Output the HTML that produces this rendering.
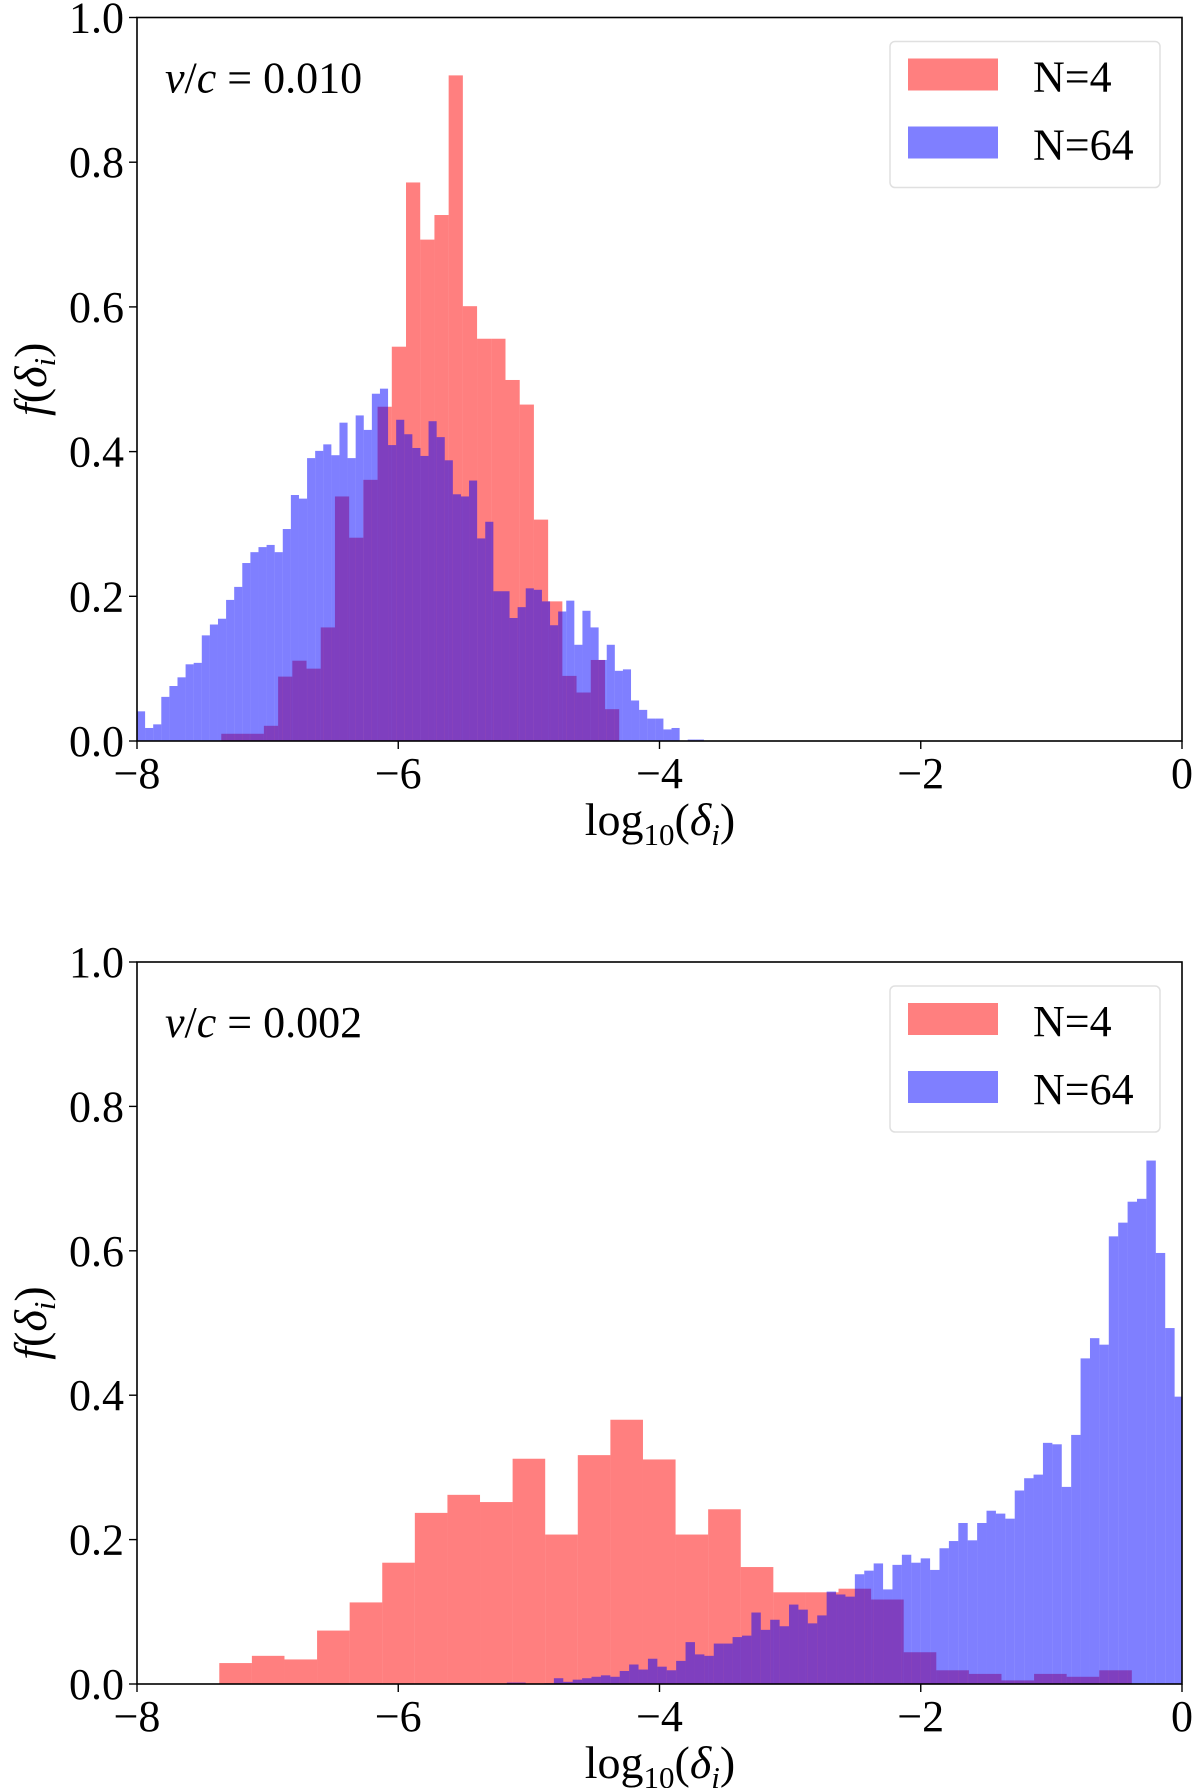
<!DOCTYPE html>
<html><head><meta charset="utf-8"><style>
html,body{margin:0;padding:0;background:#fff;}
svg{display:block;font-family:"Liberation Serif",serif;}
</style></head><body>
<svg id="fig" width="1200" height="1788" viewBox="0 0 1200 1788" xmlns="http://www.w3.org/2000/svg"></svg>
<script>
// ---- Panel 1 (v/c = 0.010) data ----
const top_redStart = -7.355;
const top_redWidth = 0.1088;
const top_red = [0.01,0.01,0.01,0.021,0.089,0.111,0.10,0.157,0.338,0.281,0.361,0.462,0.545,0.772,0.693,0.727,0.92,0.601,0.556,0.556,0.499,0.465,0.306,0.193,0.09,0.067,0.112,0.044];
const top_blueStart = -8.0;
const top_blueWidth = 0.062;
const top_blue = [0.041,0.018,0.023,0.061,0.076,0.088,0.106,0.108,0.146,0.161,0.169,0.195,0.213,0.246,0.261,0.268,0.271,0.261,0.293,0.340,0.335,0.391,0.401,0.410,0.395,0.440,0.391,0.450,0.430,0.480,0.487,0.409,0.444,0.424,0.405,0.394,0.442,0.42,0.388,0.341,0.338,0.36,0.28,0.303,0.207,0.207,0.17,0.185,0.211,0.209,0.193,0.16,0.179,0.194,0.133,0.18,0.157,0.112,0.133,0.097,0.099,0.056,0.043,0.031,0.031,0.016,0.018,0,0.002,0.002];
// ---- Panel 2 (v/c = 0.002) data ----
const bot_redStart = -7.37;
const bot_redWidth = 0.2495;
const bot_red = [0.029,0.039,0.034,0.074,0.113,0.168,0.237,0.262,0.252,0.312,0.207,0.317,0.366,0.311,0.207,0.242,0.162,0.127,0.127,0.132,0.117,0.044,0.019,0.014,0.005,0.014,0.01,0.019];
const bot_blueStart = -5.1685;
const bot_blueWidth = 0.072;
const bot_blue = [0.002,0.002,0,0,0.001,0.008,0.003,0.006,0.008,0.01,0.012,0.01,0.018,0.027,0.02,0.035,0.024,0.019,0.032,0.058,0.041,0.039,0.056,0.056,0.065,0.067,0.099,0.075,0.089,0.08,0.11,0.103,0.084,0.095,0.128,0.124,0.121,0.152,0.157,0.167,0.131,0.165,0.179,0.168,0.174,0.158,0.188,0.198,0.223,0.199,0.223,0.24,0.236,0.229,0.268,0.285,0.29,0.334,0.332,0.273,0.345,0.451,0.479,0.47,0.62,0.639,0.668,0.672,0.725,0.597,0.493,0.398];
const xTicks = [-8,-6,-4,-2,0];
const xTickLabels = ["\u22128","\u22126","\u22124","\u22122","0"];
const yTicks = [0,0.2,0.4,0.6,0.8,1.0];
const yTickLabels = ["0.0","0.2","0.4","0.6","0.8","1.0"];
const legendLabels = ["N=4","N=64"];

const NS = "http://www.w3.org/2000/svg";
const fig = document.getElementById('fig');
function mk(tag, attrs, parent, text){
  const e = document.createElementNS(NS, tag);
  for (const k in attrs) e.setAttribute(k, attrs[k]);
  if (text !== undefined) e.textContent = text;
  (parent||fig).appendChild(e);
  return e;
}

function panel(cfg){
  const L=137, R=1182, T=cfg.top, B=cfg.bottom;
  const xs = v => L + (v+8)/8*(R-L);
  const ys = v => B - v*(B-T);
  const g = mk('g',{});
  
  
  const clipId = cfg.name+'-clip';
  const cp = mk('clipPath',{id:clipId},g);
  mk('rect',{x:L,y:T,width:R-L,height:B-T},cp);
  const bars = mk('g',{'clip-path':'url(#'+clipId+')'},g);
  const redG = mk('g',{},bars);
  
  
  cfg.red.forEach((v,i)=>{
    const x0 = xs(cfg.redStart + i*cfg.redWidth), x1 = xs(cfg.redStart+(i+1)*cfg.redWidth);
    const r = mk('rect',{x:x0,y:ys(v),width:x1-x0,height:ys(0)-ys(v),fill:'#ff0000','fill-opacity':0.5},redG);
    
    
  });
  const blueG = mk('g',{},bars);
  
  
  cfg.blue.forEach((v,i)=>{
    const x0 = xs(cfg.blueStart + i*cfg.blueWidth), x1 = xs(cfg.blueStart+(i+1)*cfg.blueWidth);
    const r = mk('rect',{x:x0,y:ys(v),width:x1-x0,height:ys(0)-ys(v),fill:'#0000ff','fill-opacity':0.5},blueG);
    
    
  });
  const fr = mk('rect',{x:L,y:T,width:R-L,height:B-T,fill:'none',stroke:'#000','stroke-width':1.6},g);
  
  
  xTicks.forEach((t,i)=>{
    const x = xs(t);
    mk('line',{x1:x,y1:B,x2:x,y2:B+8,stroke:'#000','stroke-width':1.4},g);
    const tl = mk('text',{x:x,y:B+47,'font-size':44,'text-anchor':'middle'},g,xTickLabels[i]);
    
    
  });
  yTicks.forEach((t,i)=>{
    const y = ys(t);
    mk('line',{x1:L-8,y1:y,x2:L,y2:y,stroke:'#000','stroke-width':1.4},g);
    const tl = mk('text',{x:L-13,y:y+15,'font-size':44,'text-anchor':'end'},g,yTickLabels[i]);
    
    
  });
  const xl = mk('text',{x:660,y:B+94,'font-size':46,'text-anchor':'middle'},g);
  
  
  mk('tspan',{},xl,'log');
  mk('tspan',{'font-size':31,dy:10},xl,'10');
  mk('tspan',{dy:-10},xl,'(');
  mk('tspan',{'font-style':'italic'},xl,'δ');
  mk('tspan',{'font-style':'italic','font-size':31,dy:10},xl,'i');
  mk('tspan',{dy:-10},xl,')');
  const cy = (T+B)/2;
  const yl = mk('text',{x:0,y:0,'font-size':46,'text-anchor':'middle',transform:'translate(46,'+cy+') rotate(-90)'},g);
  
  
  mk('tspan',{'font-style':'italic'},yl,'f');
  mk('tspan',{},yl,'(');
  mk('tspan',{'font-style':'italic'},yl,'δ');
  mk('tspan',{'font-style':'italic','font-size':31,dy:9},yl,'i');
  mk('tspan',{dy:-9},yl,')');
  const an = mk('text',{x:165,y:T+75,'font-size':44},g);
  
  
  mk('tspan',{'font-style':'italic'},an,'v');
  mk('tspan',{},an,'/');
  mk('tspan',{'font-style':'italic'},an,'c');
  mk('tspan',{},an,' = '+cfg.label);
  const lg = mk('g',{},g);
  
  
  mk('rect',{x:890,y:T+24,width:270,height:146,rx:5,fill:'#fff','fill-opacity':0.8,stroke:'#e0e0e0','stroke-width':1.5},lg);
  const cols = ['#ff0000','#0000ff'];
  legendLabels.forEach((lab,i)=>{
    const py = T+41+i*68;
    const e = mk('g',{},lg);
    
    
    mk('rect',{x:908,y:py,width:90,height:32,fill:cols[i],'fill-opacity':0.5},e);
    mk('text',{x:1033,y:py+33,'font-size':44},e,lab);
  });
}
panel({name:'panel-v0010',top:17.5,bottom:741,label:'0.010',
  red:top_red,redStart:top_redStart,redWidth:top_redWidth,
  blue:top_blue,blueStart:top_blueStart,blueWidth:top_blueWidth});
panel({name:'panel-v0002',top:962,bottom:1684,label:'0.002',
  red:bot_red,redStart:bot_redStart,redWidth:bot_redWidth,
  blue:bot_blue,blueStart:bot_blueStart,blueWidth:bot_blueWidth});
</script>
</body></html>
